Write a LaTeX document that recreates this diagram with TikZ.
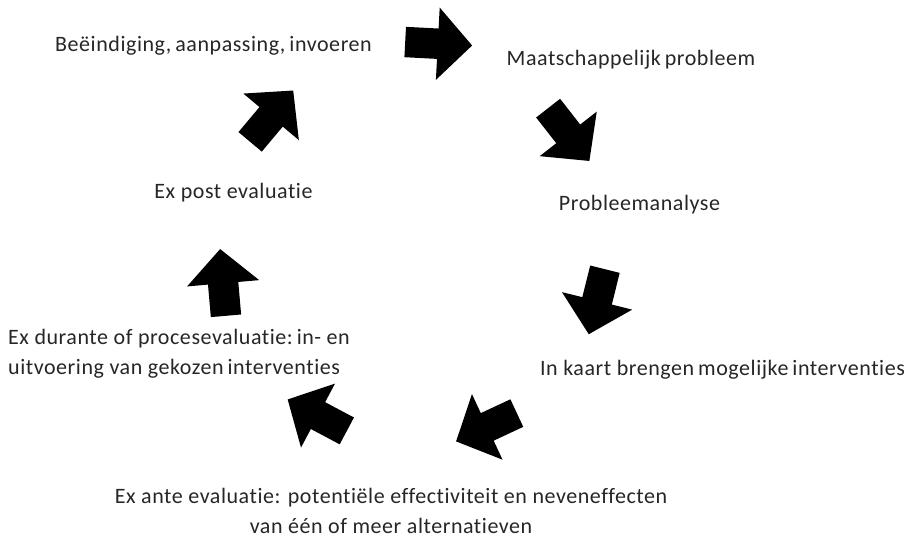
\documentclass[tikz,border=0pt]{standalone}
\usepackage{fontspec}
\setmainfont[LetterSpace=2.5,RawFeature={-liga}]{Carlito}
\usetikzlibrary{shapes.arrows}
\newcommand{\wgap}{\hskip4pt\relax}
\begin{document}
\begin{tikzpicture}[x=1pt,y=-1pt,
  barrow/.style={single arrow, fill=black, draw=none, inner xsep=0pt, inner ysep=15pt,
    minimum height=67pt, single arrow head extend=21pt, single arrow tip angle=93, anchor=tail},
  lbl/.style={font=\fontsize{22}{30}\selectfont, inner sep=0pt, text=black!85}]
\useasboundingbox (0,0) rectangle (920,553);
\node[barrow, rotate=-3] (a1) at (405,42) {};
\node[barrow, rotate=-52] (a2) at (548,108) {};
\node[barrow, rotate=-104] (a3) at (605,269) {};
\node[barrow, rotate=-155] (a4) at (517,413) {};
\node[barrow, rotate=152] (a5) at (347,431) {};
\node[barrow, rotate=95] (a6) at (226,316) {};
\node[barrow, rotate=50] (a7) at (250,142) {};
\node[lbl] (t1) at (213.5,46) {Beëindiging,\wgap aanpassing,\wgap invoeren};
\node[lbl] (t2) at (631,60) {Maatschappelijk\wgap probleem};
\node[lbl] (t3) at (639.5,205) {Probleemanalyse};
\node[lbl] (t4) at (233.5,193) {Ex post evaluatie};
\node[lbl, anchor=west, align=left] (t5) at (8,354) {Ex durante of procesevaluatie:\wgap in- en\\uitvoering van gekozen\wgap interventies};
\node[lbl] (t6) at (722.5,370) {In kaart brengen\wgap mogelijke\wgap interventies};
\node[lbl, align=center] (t7) at (391,511) {Ex ante evaluatie: potentiële effectiviteit en neveneffecten\\van één of meer alternatieven};
\end{tikzpicture}
\end{document}
